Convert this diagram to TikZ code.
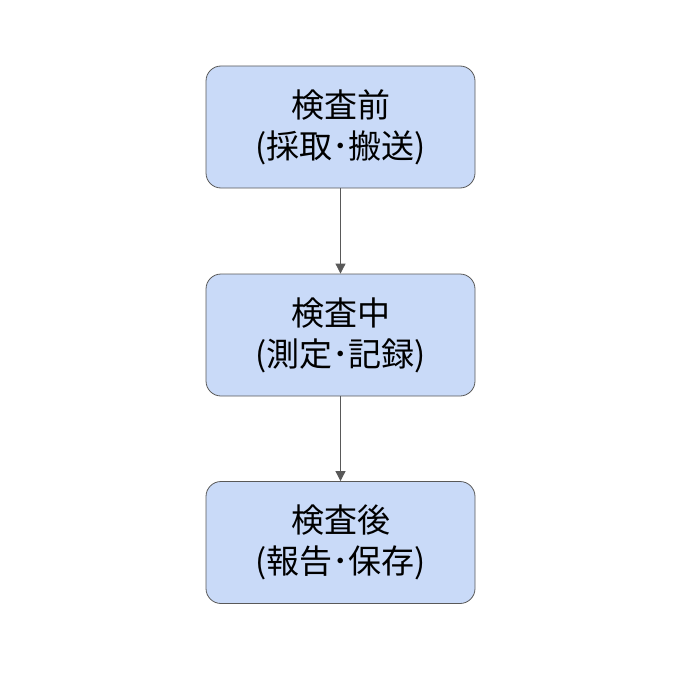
\documentclass[tikz,border=0pt]{standalone}
\usepackage{fontspec}
\setmainfont{Noto Sans CJK JP}
\usepackage{tikz}
\usetikzlibrary{arrows.meta}

\begin{document}
\begin{tikzpicture}[x=1pt,y=-1pt,
    stagebox/.style={draw=black!65,fill={rgb,255:red,201;green,218;blue,248},
        rounded corners=15pt,minimum width=269pt,minimum height=122pt,
        align=center,font=\fontsize{33}{41}\selectfont,line width=0.8pt},
    flow/.style={-{Triangle[length=10pt,width=10pt]},draw=black!65,fill=black!65,line width=0.8pt}]
    \useasboundingbox (0,0) rectangle (677,687);

    \node[stagebox] (pre)  at (340.5, 127)   {検査前\\(採取･搬送)};
    \node[stagebox] (mid)  at (340.5, 335)   {検査中\\(測定･記録)};
    \node[stagebox] (post) at (340.5, 542.5) {検査後\\(報告･保存)};

    \draw[flow] (pre) -- (mid);
    \draw[flow] (mid) -- (post);
\end{tikzpicture}
\end{document}
